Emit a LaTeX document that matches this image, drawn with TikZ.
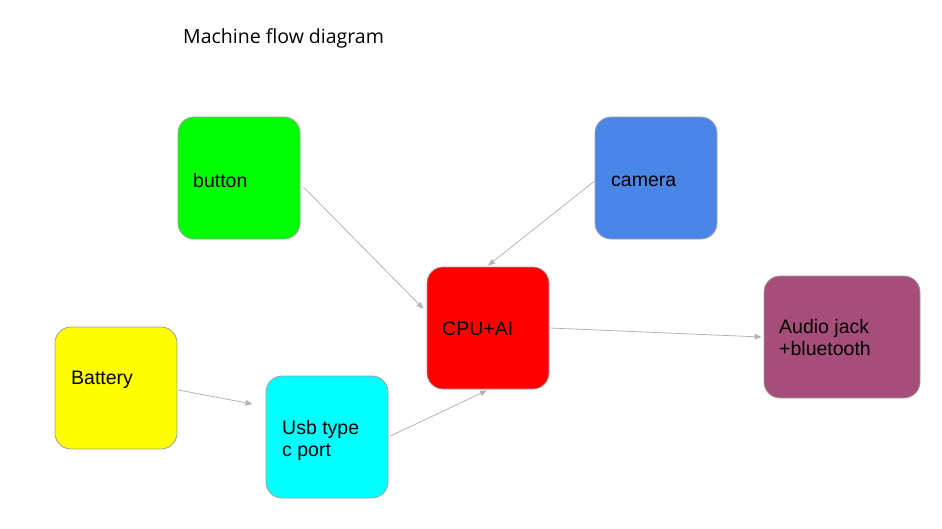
\documentclass[tikz,border=0pt]{standalone}
\usepackage{fontspec}
\setmainfont{Liberation Sans}
\newfontfamily\titlefont{Open Sans}
\usetikzlibrary{arrows.meta}
\definecolor{bgreen}{HTML}{00FF00}
\definecolor{bblue}{HTML}{4A86E8}
\definecolor{bred}{HTML}{FF0000}
\definecolor{bpurple}{HTML}{A64D79}
\definecolor{byellow}{HTML}{FFFF00}
\definecolor{bcyan}{HTML}{00FFFF}
\definecolor{bborder}{HTML}{A0A0A0}
\definecolor{arrowgray}{HTML}{B4B4B4}
\tikzset{
  box/.style={draw=bborder, line width=0.8pt, rounded corners=16pt, minimum height=122pt,
    inner xsep=15pt, inner ysep=0pt, align=left, font=\fontsize{19.5}{22}\selectfont},
  box122/.style={box, text width=92pt, minimum width=122pt},
  box156/.style={box, text width=126pt, minimum width=156pt},
  lbl/.style={anchor=west, inner sep=0pt, align=left, font=\fontsize{19.5}{22}\selectfont},
  conn/.style={draw=arrowgray, line width=0.8pt, -{Triangle[length=7pt,width=5.5pt]}}
}
\begin{document}
\begin{tikzpicture}[x=1pt,y=-1pt]
\useasboundingbox (0,0) rectangle (942,528);
\node[anchor=west, inner sep=0pt, font=\titlefont\fontsize{19.5}{23}\selectfont] (title) at (183,38) {Machine flow diagram};
\node[box122, fill=bgreen] (button) at (239,178) {};
\node[box122, fill=bblue] (camera) at (656,178) {};
\node[box122, fill=bred] (cpu) at (488,328) {};
\node[box156, fill=bpurple] (audio) at (842,337) {};
\node[box122, fill=byellow] (battery) at (116,388) {};
\node[box122, fill=bcyan] (usb) at (327,437) {};
\node[lbl] (tbutton) at (193,180.5) {button};
\node[lbl] (tcamera) at (611,181) {camera};
\node[lbl] (tcpu) at (442,329) {CPU+AI};
\node[lbl] (taudio) at (779,338) {Audio jack\\+bluetooth};
\node[lbl] (tbattery) at (71,380) {Battery};
\node[lbl] (tusb) at (282,440) {Usb type\\c port};
\draw[conn] ([shift={(3,9)}]button.east) -- ([shift={(-3,-19)}]cpu.west);
\draw[conn] ([shift={(0,3)}]camera.west) -- ([shift={(0,-1)}]cpu.north);
\draw[conn] ([shift={(1,0)}]cpu.east) -- ([shift={(-2,0)}]audio.west);
\draw[conn] ([shift={(1,2)}]battery.east) -- ([shift={(-13,-33)}]usb.west);
\draw[conn] ([shift={(2,-1)}]usb.east) -- ([shift={(-1,1)}]cpu.south);
\end{tikzpicture}
\end{document}
